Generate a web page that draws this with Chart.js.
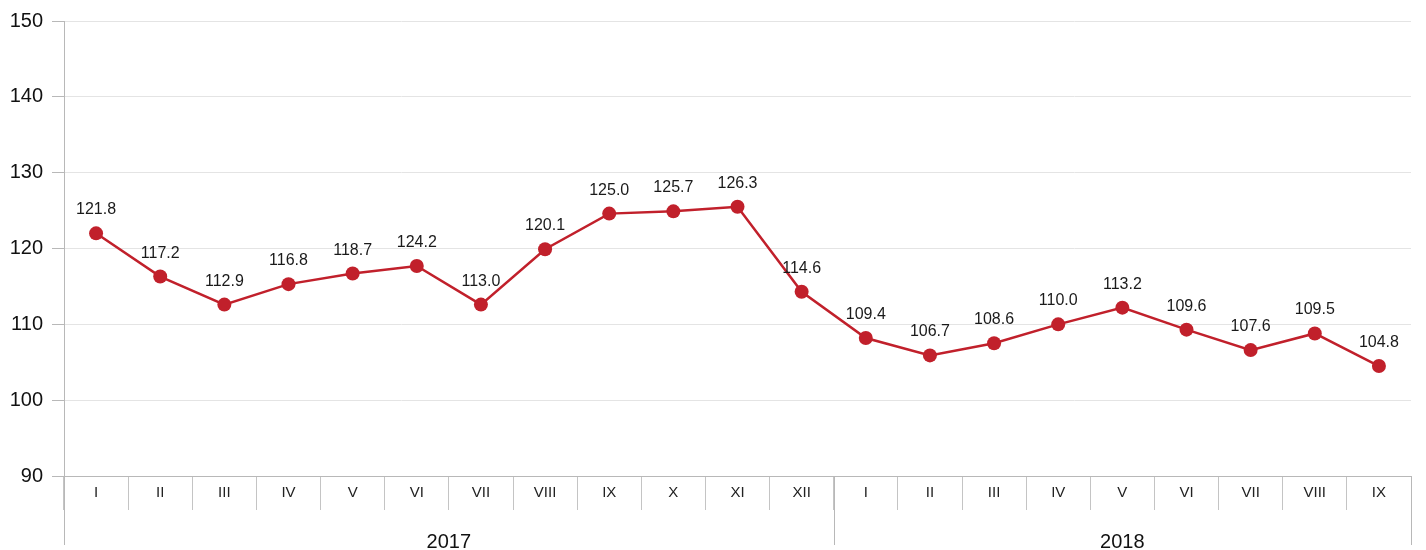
<!DOCTYPE html>
<html>
<head>
<meta charset="utf-8">
<script src="https://cdn.jsdelivr.net/npm/chart.js@4.4.0/dist/chart.umd.min.js"></script>
<style>
  html, body { margin: 0; padding: 0; background: #ffffff; }
  #wrap { width: 1426px; height: 550px; position: relative; }
</style>
</head>
<body>
<div id="wrap"><canvas id="c" width="1426" height="550"></canvas></div>
<script>
// ---- data ----
const months = ['I','II','III','IV','V','VI','VII','VIII','IX','X','XI','XII',
                'I','II','III','IV','V','VI','VII','VIII','IX'];
const years = ['2017', '2018'];
const monthsPerYear = [12, 9];
// plotted point values
const values = [122.0, 116.3, 112.6, 115.3, 116.7, 117.7, 112.6, 119.9, 124.6, 124.9, 125.5, 114.3,
                108.2, 105.9, 107.5, 110.0, 112.2, 109.3, 106.6, 108.8, 104.5];
// value labels printed above markers
const valueLabels = ['121.8','117.2','112.9','116.8','118.7','124.2','113.0','120.1','125.0','125.7','126.3','114.6',
                     '109.4','106.7','108.6','110.0','113.2','109.6','107.6','109.5','104.8'];
const yTicks = [90, 100, 110, 120, 130, 140, 150];

const FONT = '"Liberation Sans", Arial, sans-serif';
const RED = '#c1202b';

const extras = {
  id: 'extras',
  afterDatasetsDraw(chart) {
    const ctx = chart.ctx;
    const meta = chart.getDatasetMeta(0);
    ctx.save();
    ctx.font = '16px ' + FONT;
    ctx.fillStyle = '#1a1a1a';
    ctx.textAlign = 'center';
    ctx.textBaseline = 'alphabetic';
    meta.data.forEach((pt, i) => {
      ctx.fillText(valueLabels[i], pt.x, pt.y - 19);
    });
    ctx.restore();
  },
  afterDraw(chart) {
    const ctx = chart.ctx;
    const xs = chart.scales.x;
    const area = chart.chartArea;
    const bottom = 545;
    const half = (xs.getPixelForValue(1) - xs.getPixelForValue(0)) / 2;
    ctx.save();
    ctx.strokeStyle = '#b8b8b8';
    ctx.lineWidth = 1;
    // y axis extension
    const lines = [area.left];
    let idx = 0;
    years.forEach((y, k) => {
      idx += monthsPerYear[k];
      lines.push(xs.getPixelForValue(idx - 1) + half);
    });
    lines.forEach(x => {
      const xx = Math.round(x) + 0.5;
      ctx.beginPath();
      ctx.moveTo(xx, area.bottom);
      ctx.lineTo(xx, bottom);
      ctx.stroke();
    });
    // year labels
    ctx.font = '20px ' + FONT;
    ctx.fillStyle = '#111';
    ctx.textAlign = 'center';
    ctx.textBaseline = 'alphabetic';
    let start = 0;
    years.forEach((y, k) => {
      const end = start + monthsPerYear[k] - 1;
      const x0 = xs.getPixelForValue(start) - half;
      const x1 = xs.getPixelForValue(end) + half;
      ctx.fillText(y, (x0 + x1) / 2, 548);
      start = end + 1;
    });
    ctx.restore();
  }
};

new Chart(document.getElementById('c'), {
  type: 'line',
  data: {
    labels: months,
    datasets: [{
      data: values,
      borderColor: RED,
      backgroundColor: RED,
      borderWidth: 2.5,
      pointRadius: 7,
      pointHoverRadius: 7,
      pointBackgroundColor: RED,
      pointBorderColor: RED,
      pointBorderWidth: 0,
      tension: 0,
      fill: false
    }]
  },
  options: {
    responsive: false,
    animation: false,
    devicePixelRatio: 1,
    layout: { padding: { top: 20, right: 15, left: 0, bottom: 0 } },
    plugins: { legend: { display: false }, tooltip: { enabled: false } },
    scales: {
      x: {
        type: 'category',
        offset: true,
        afterFit: s => { s.height = 74; },
        grid: {
          offset: true,
          drawOnChartArea: false,
          drawTicks: true,
          tickLength: 34,
          color: '#c4c4c4',
          tickColor: '#c4c4c4',
          lineWidth: 1
        },
        border: { display: true, color: '#b8b8b8', width: 1 },
        ticks: {
          autoSkip: false,
          maxRotation: 0,
          minRotation: 0,
          padding: -26,
          color: '#222',
          font: { family: FONT, size: 15 }
        }
      },
      y: {
        min: 90,
        max: 150,
        afterFit: s => { s.width = 64; },
        afterBuildTicks: s => { s.ticks = yTicks.map(v => ({ value: v })); },
        grid: {
          color: '#e4e4e4',
          tickColor: '#b8b8b8',
          tickLength: 12,
          lineWidth: 1
        },
        border: { display: true, color: '#b8b8b8', width: 1 },
        ticks: {
          padding: 9,
          color: '#111',
          font: { family: FONT, size: 20 }
        }
      }
    }
  },
  plugins: [extras]
});
</script>
</body>
</html>
